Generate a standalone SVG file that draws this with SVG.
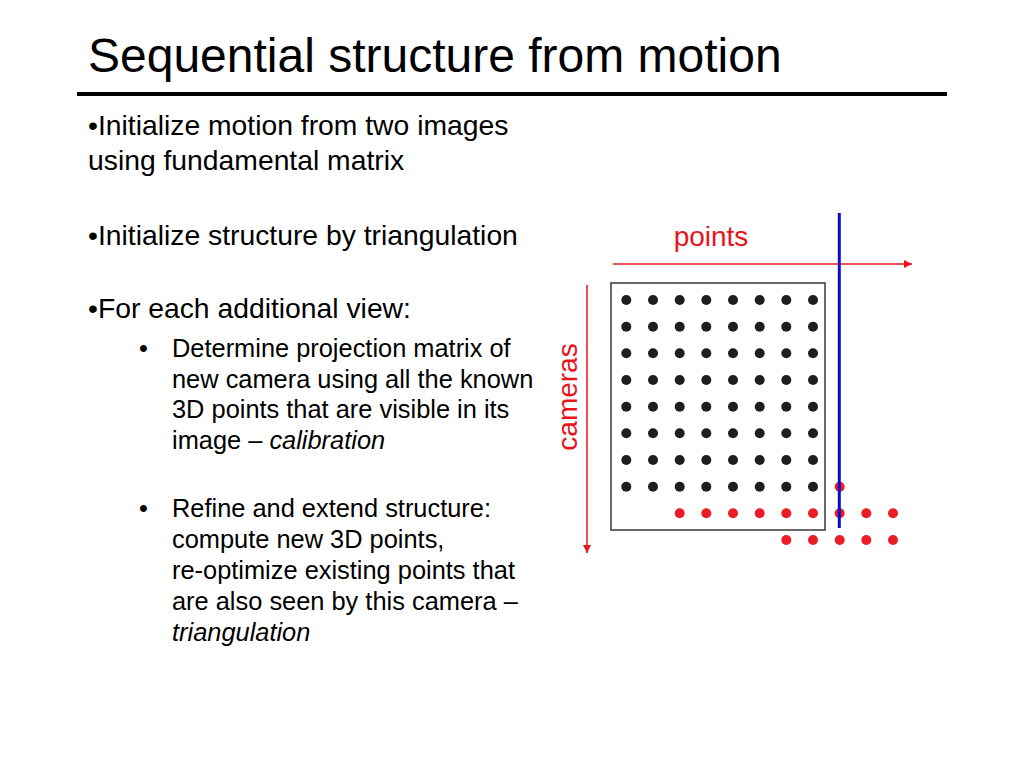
<svg xmlns="http://www.w3.org/2000/svg" width="1024" height="768" viewBox="0 0 1024 768">
<defs>
<style>
text{font-family:"Liberation Sans",Arial,Helvetica,sans-serif;fill:#000}
.title{font-size:48px}
.b1{font-size:28.3px}
.b2{font-size:25.4px}
.red{fill:#e8141c;font-size:28px}
.it{font-style:italic}
.bd{fill:#1e1e1e}
.rd{fill:#ec1c24}
.arr{stroke:#e8141c;stroke-width:1.5;fill:none}
</style>
<marker id="ah" viewBox="0 0 10 10" refX="10" refY="5" markerWidth="8" markerHeight="8" markerUnits="userSpaceOnUse" orient="auto">
<path d="M0,0 L10,5 L0,10 z" fill="#e8141c"/>
</marker>
</defs>
<rect width="1024" height="768" fill="#fff"/>
<g id="title">
<text class="title" x="88" y="72">Sequential structure from motion</text>
<rect x="77" y="92" width="870" height="4" fill="#000"/>
</g>
<g id="bullets">
<text class="b1" x="88" y="135">•Initialize motion from two images</text>
<text class="b1" x="88" y="170">using fundamental matrix</text>
<text class="b1" x="88" y="245">•Initialize structure by triangulation</text>
<text class="b1" x="88" y="318">•For each additional view:</text>
<text class="b2" x="139" y="357">•</text>
<text class="b2" x="172" y="357">Determine projection matrix of</text>
<text class="b2" x="172" y="388">new camera using all the known</text>
<text class="b2" x="172" y="418">3D points that are visible in its</text>
<text class="b2" x="172" y="449">image – <tspan class="it">calibration</tspan></text>
<text class="b2" x="139" y="517">•</text>
<text class="b2" x="172" y="517">Refine and extend structure:</text>
<text class="b2" x="172" y="548">compute new 3D points,</text>
<text class="b2" x="172" y="579">re-optimize existing points that</text>
<text class="b2" x="172" y="610">are also seen by this camera –</text>
<text class="b2 it" x="172" y="641">triangulation</text>
</g>
<g id="connectors">
<line class="arr" x1="613" y1="264" x2="912" y2="264" marker-end="url(#ah)"/>
<line class="arr" x1="587" y1="285" x2="587" y2="553" marker-end="url(#ah)"/>
</g>
<g id="labels">
<text class="red" x="711" y="246" text-anchor="middle">points</text>
<text class="red" transform="translate(577,397) rotate(-90)" text-anchor="middle">cameras</text>
</g>
<g id="matrix">
<rect x="611" y="283" width="214" height="247" fill="none" stroke="#444" stroke-width="1.6"/>
<g id="black-dots" class="bd">
<circle cx="626.3" cy="300" r="5"/><circle cx="653" cy="300" r="5"/><circle cx="679.7" cy="300" r="5"/><circle cx="706.3" cy="300" r="5"/><circle cx="733" cy="300" r="5"/><circle cx="759.7" cy="300" r="5"/><circle cx="786.3" cy="300" r="5"/><circle cx="813" cy="300" r="5"/>
<circle cx="626.3" cy="326.7" r="5"/><circle cx="653" cy="326.7" r="5"/><circle cx="679.7" cy="326.7" r="5"/><circle cx="706.3" cy="326.7" r="5"/><circle cx="733" cy="326.7" r="5"/><circle cx="759.7" cy="326.7" r="5"/><circle cx="786.3" cy="326.7" r="5"/><circle cx="813" cy="326.7" r="5"/>
<circle cx="626.3" cy="353.3" r="5"/><circle cx="653" cy="353.3" r="5"/><circle cx="679.7" cy="353.3" r="5"/><circle cx="706.3" cy="353.3" r="5"/><circle cx="733" cy="353.3" r="5"/><circle cx="759.7" cy="353.3" r="5"/><circle cx="786.3" cy="353.3" r="5"/><circle cx="813" cy="353.3" r="5"/>
<circle cx="626.3" cy="380" r="5"/><circle cx="653" cy="380" r="5"/><circle cx="679.7" cy="380" r="5"/><circle cx="706.3" cy="380" r="5"/><circle cx="733" cy="380" r="5"/><circle cx="759.7" cy="380" r="5"/><circle cx="786.3" cy="380" r="5"/><circle cx="813" cy="380" r="5"/>
<circle cx="626.3" cy="406.7" r="5"/><circle cx="653" cy="406.7" r="5"/><circle cx="679.7" cy="406.7" r="5"/><circle cx="706.3" cy="406.7" r="5"/><circle cx="733" cy="406.7" r="5"/><circle cx="759.7" cy="406.7" r="5"/><circle cx="786.3" cy="406.7" r="5"/><circle cx="813" cy="406.7" r="5"/>
<circle cx="626.3" cy="433.3" r="5"/><circle cx="653" cy="433.3" r="5"/><circle cx="679.7" cy="433.3" r="5"/><circle cx="706.3" cy="433.3" r="5"/><circle cx="733" cy="433.3" r="5"/><circle cx="759.7" cy="433.3" r="5"/><circle cx="786.3" cy="433.3" r="5"/><circle cx="813" cy="433.3" r="5"/>
<circle cx="626.3" cy="460" r="5"/><circle cx="653" cy="460" r="5"/><circle cx="679.7" cy="460" r="5"/><circle cx="706.3" cy="460" r="5"/><circle cx="733" cy="460" r="5"/><circle cx="759.7" cy="460" r="5"/><circle cx="786.3" cy="460" r="5"/><circle cx="813" cy="460" r="5"/>
<circle cx="626.3" cy="486.7" r="5"/><circle cx="653" cy="486.7" r="5"/><circle cx="679.7" cy="486.7" r="5"/><circle cx="706.3" cy="486.7" r="5"/><circle cx="733" cy="486.7" r="5"/><circle cx="759.7" cy="486.7" r="5"/><circle cx="786.3" cy="486.7" r="5"/><circle cx="813" cy="486.7" r="5"/>
</g>
<g id="red-dots" class="rd">
<circle cx="839.7" cy="486.7" r="5"/>
<circle cx="679.7" cy="513.3" r="5"/><circle cx="706.3" cy="513.3" r="5"/><circle cx="733" cy="513.3" r="5"/><circle cx="759.7" cy="513.3" r="5"/><circle cx="786.3" cy="513.3" r="5"/><circle cx="813" cy="513.3" r="5"/><circle cx="839.7" cy="513.3" r="5"/><circle cx="866.3" cy="513.3" r="5"/><circle cx="893" cy="513.3" r="5"/>
<circle cx="786.3" cy="540" r="5"/><circle cx="813" cy="540" r="5"/><circle cx="839.7" cy="540" r="5"/><circle cx="866.3" cy="540" r="5"/><circle cx="893" cy="540" r="5"/>
</g>
<line id="blue-line" x1="839.3" y1="213" x2="839.3" y2="528" stroke="#0a0ad8" stroke-width="3"/>
</g>
</svg>
